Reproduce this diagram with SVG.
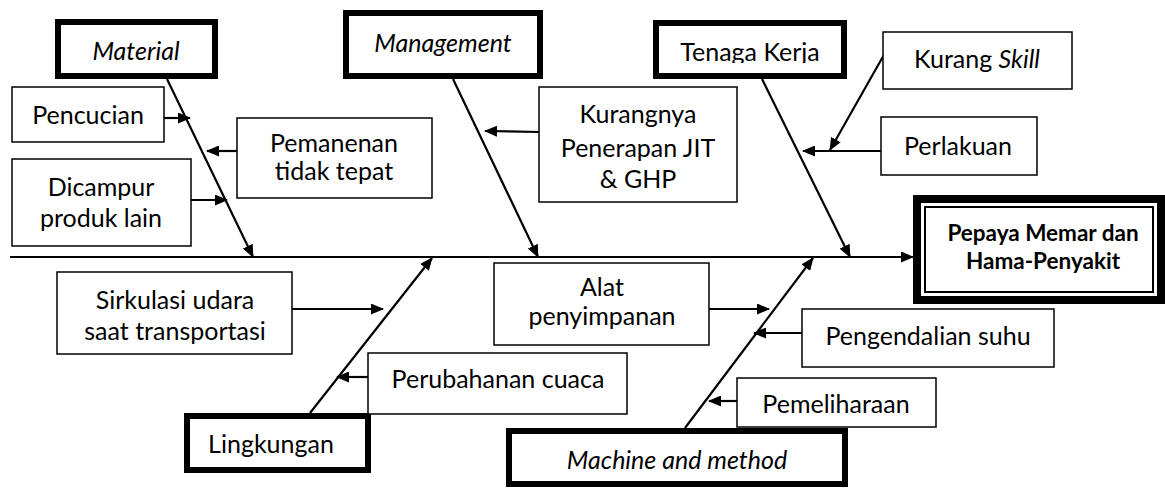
<svg xmlns="http://www.w3.org/2000/svg" width="1165" height="488" viewBox="0 0 1165 488">
<style>
text{font-family:Lato,"Liberation Sans",sans-serif;font-size:25px;fill:#000;text-anchor:middle}
.it{font-style:italic}
.thin{fill:#fff;stroke:#000;stroke-width:1.5}
.thick{fill:#fff;stroke:#000;stroke-width:6}
.ln{fill:none;stroke:#000;stroke-width:2.2}
.main{font-weight:bold;font-size:22.5px}
</style>
<defs>
<marker id="ah" viewBox="0 0 13 11" refX="12" refY="5.5" markerWidth="13" markerHeight="11" markerUnits="userSpaceOnUse" orient="auto"><path d="M0,0 L13,5.5 L0,11 z" fill="#000"/></marker>
<clipPath id="tkclip"><rect x="656" y="23" width="188" height="40"/></clipPath>
</defs>
<rect width="1165" height="488" fill="#fff"/>
<g id="connectors">
<path class="ln" d="M10,257 L913,257" stroke-width="2.5" marker-end="url(#ah)"/>
<path class="ln" d="M167,79 L253,257" marker-end="url(#ah)"/>
<path class="ln" d="M453,79 L538,257" marker-end="url(#ah)"/>
<path class="ln" d="M762,79 L850,257" marker-end="url(#ah)"/>
<path class="ln" d="M310,413 L432,258" marker-end="url(#ah)"/>
<path class="ln" d="M685,428 L813,258" marker-end="url(#ah)"/>
<path class="ln" d="M164,118 L190,118" marker-end="url(#ah)"/>
<path class="ln" d="M237,151 L207,151" marker-end="url(#ah)"/>
<path class="ln" d="M191,200 L227,200" marker-end="url(#ah)"/>
<path class="ln" d="M539,132 L485,131" marker-end="url(#ah)"/>
<path class="ln" d="M885,53 L830,150" marker-end="url(#ah)"/>
<path class="ln" d="M881,151 L803,151" marker-end="url(#ah)"/>
<path class="ln" d="M292,309 L383,309" marker-end="url(#ah)"/>
<path class="ln" d="M368,377 L337,377" marker-end="url(#ah)"/>
<path class="ln" d="M709,309 L769,309" marker-end="url(#ah)"/>
<path class="ln" d="M802,333 L754,333" marker-end="url(#ah)"/>
<path class="ln" d="M737,401 L709,401" marker-end="url(#ah)"/>
</g>
<g id="material"><rect class="thick" x="58" y="22" width="157" height="54"/><text class="it" x="136" y="60">Material</text></g>
<g id="management"><rect class="thick" x="346" y="13" width="194" height="63"/><text class="it" x="443" y="52">Management</text></g>
<g id="tenaga-kerja"><rect class="thick" x="656" y="23" width="188" height="53"/><text x="750" y="61" clip-path="url(#tkclip)">Tenaga Kerja</text></g>
<g id="lingkungan"><rect class="thick" x="187" y="416" width="181" height="54"/><text x="271" y="453">Lingkungan</text></g>
<g id="machine-method"><rect class="thick" x="509" y="431" width="336" height="53"/><text class="it" x="677" y="469">Machine and method</text></g>
<g id="pencucian"><rect class="thin" x="12" y="87" width="152" height="55"/><text x="88" y="124">Pencucian</text></g>
<g id="pemanenan"><rect class="thin" x="237" y="118" width="195" height="80"/><text x="334" y="152">Pemanenan</text><text x="334" y="180">tidak tepat</text></g>
<g id="dicampur"><rect class="thin" x="12" y="159" width="179" height="87"/><text x="101" y="196">Dicampur</text><text x="101" y="227">produk lain</text></g>
<g id="kurangnya"><rect class="thin" x="539" y="87" width="198" height="115"/><text x="638" y="123">Kurangnya</text><text x="638" y="157">Penerapan JIT</text><text x="638" y="188">&amp; GHP</text></g>
<g id="kurang-skill"><rect class="thin" x="883" y="32" width="189" height="57"/><text x="977" y="68">Kurang <tspan class="it">Skill</tspan></text></g>
<g id="perlakuan"><rect class="thin" x="881" y="117" width="156" height="58"/><text x="958" y="155">Perlakuan</text></g>
<g id="sirkulasi"><rect class="thin" x="57" y="272" width="235" height="82"/><text x="175" y="309">Sirkulasi udara</text><text x="175" y="340">saat transportasi</text></g>
<g id="perubahan-cuaca"><rect class="thin" x="368" y="353" width="259" height="61"/><text x="498" y="388">Perubahanan cuaca</text></g>
<g id="alat-penyimpanan"><rect class="thin" x="494" y="263" width="215" height="82"/><text x="602" y="296">Alat</text><text x="602" y="325">penyimpanan</text></g>
<g id="pengendalian-suhu"><rect class="thin" x="802" y="309" width="252" height="58"/><text x="928" y="345">Pengendalian suhu</text></g>
<g id="pemeliharaan"><rect class="thin" x="737" y="378" width="199" height="49"/><text x="836" y="413">Pemeliharaan</text></g>
<g id="effect"><rect x="917" y="199" width="244" height="101" fill="#fff" stroke="#000" stroke-width="8"/><rect x="925" y="207" width="228" height="85" fill="none" stroke="#000" stroke-width="2"/><text class="main" x="1043" y="241">Pepaya Memar dan</text><text class="main" x="1043" y="269">Hama-Penyakit</text></g>
</svg>
